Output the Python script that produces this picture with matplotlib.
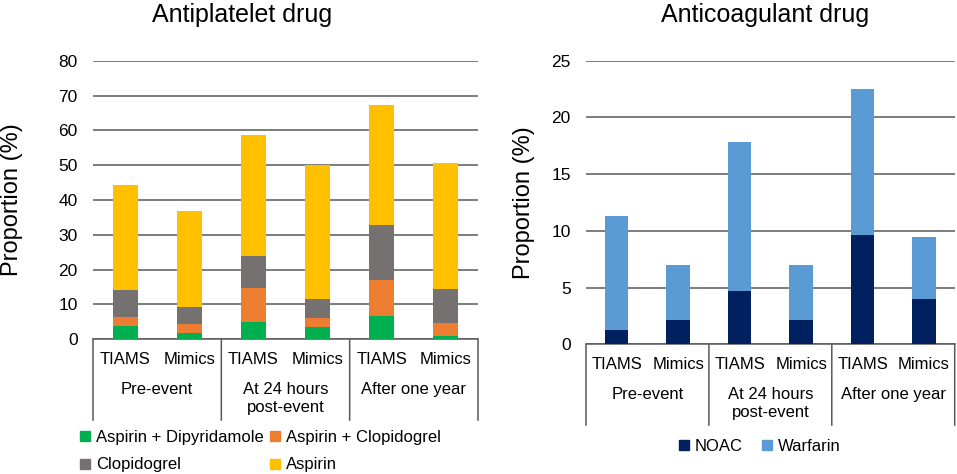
import matplotlib
matplotlib.use("Agg")
import matplotlib.pyplot as plt
import matplotlib.transforms as mtransforms
from matplotlib.lines import Line2D
import numpy as np

plt.rcParams['font.family'] = ['Liberation Sans', 'DejaVu Sans']

# ---------------- data ----------------
subgroups = ["TIAMS", "Mimics", "TIAMS", "Mimics", "TIAMS", "Mimics"]
periods = ["Pre-event", "At 24 hours\npost-event", "After one year"]

# Antiplatelet (%), stacked bottom -> top
asp_dip = [3.8, 1.8, 5.0, 3.4, 6.8, 1.0]
asp_clop = [2.7, 2.6, 9.6, 2.8, 10.2, 3.7]
clopidogrel = [7.7, 4.8, 9.4, 5.5, 15.7, 9.8]
aspirin = [30.2, 27.5, 34.6, 38.3, 34.5, 36.1]

# Anticoagulant (%), stacked bottom -> top
noac = [1.3, 2.1, 4.7, 2.1, 9.6, 4.0]
warfarin = [10.0, 4.9, 13.1, 4.9, 12.9, 5.5]

antiplatelet_series = [
    ("Aspirin + Dipyridamole", asp_dip, "#00B050"),
    ("Aspirin + Clopidogrel", asp_clop, "#ED7D31"),
    ("Clopidogrel", clopidogrel, "#767171"),
    ("Aspirin", aspirin, "#FFC000"),
]
anticoag_series = [
    ("NOAC", noac, "#002060"),
    ("Warfarin", warfarin, "#5B9BD5"),
]

W, H = 957, 474
fig = plt.figure(figsize=(W / 100, H / 100), dpi=100)

def add_axes_px(x0, x1, ytop, ybot):
    return fig.add_axes([x0 / W, 1 - ybot / H, (x1 - x0) / W, (ybot - ytop) / H])

GRID = "#595959"

def draw_panel(ax, series, ymax, ystep, bar_w, title, title_x, ylabel_x):
    x = np.arange(len(subgroups))
    bottom = np.zeros(len(subgroups))
    handles = []
    for name, vals, col in series:
        v = np.array(vals, dtype=float)
        ax.bar(x, v, bottom=bottom, width=bar_w, color=col, linewidth=0, zorder=3)
        bottom += v
        handles.append(Line2D([], [], marker='s', linestyle='none', markersize=6.5,
                              markerfacecolor=col, markeredgecolor=col, label=name))
    ax.set_xlim(-0.5, len(subgroups) - 0.5)
    ax.set_ylim(0, ymax)
    ax.set_yticks(np.arange(0, ymax + 0.01, ystep))
    ax.yaxis.grid(True, color=GRID, linewidth=1.1, zorder=0)
    ax.set_axisbelow(True)
    for s in ["top", "right", "left"]:
        ax.spines[s].set_visible(False)
    ax.spines["bottom"].set_color(GRID)
    ax.spines["bottom"].set_linewidth(1.1)
    ax.tick_params(axis='y', length=0, pad=11, labelsize=12.5, labelcolor="black")
    ax.set_xticks([])
    ax.set_ylabel("Proportion (%)", fontsize=17)
    ax.yaxis.set_label_coords(ylabel_x, 0.5)

    # category table under the axis
    base = mtransforms.blended_transform_factory(ax.transData, ax.transAxes)

    def tr(dy_px):
        return base + mtransforms.ScaledTranslation(0, -dy_px / 100, fig.dpi_scale_trans)

    for i, lab in enumerate(subgroups):
        ax.text(i, 0, lab, transform=tr(20), ha='center', va='center',
                fontsize=12, clip_on=False)
    for j, lab in enumerate(periods):
        ax.text(2 * j + 0.5, 0, lab, transform=tr(43), ha='center', va='top',
                fontsize=12, linespacing=1.2, clip_on=False)
    for xs in [-0.5, 1.5, 3.5, 5.5]:
        ax.annotate("", xy=(xs, 0), xycoords=tr(0), xytext=(xs, 0), textcoords=tr(81),
                    arrowprops=dict(arrowstyle='-', color=GRID, lw=1.1,
                                    shrinkA=0, shrinkB=0))
    fig.text(title_x / W, 1 - 15 / H, title, ha='center', va='center', fontsize=18)
    return handles

# left panel
axL = add_axes_px(93, 478, 60.7, 339.3)
hL = draw_panel(axL, antiplatelet_series, 80, 10, 0.39, "Antiplatelet drug", 241.7, -0.182)
# right panel
axR = add_axes_px(586, 954.7, 60.7, 344.3)
hR = draw_panel(axR, anticoag_series, 25, 5, 0.38, "Anticoagulant drug", 765, -0.138)

legL = fig.legend(handles=[hL[0], hL[2], hL[1], hL[3]], ncol=2, loc='upper left',
                  bbox_to_anchor=(80 / W, 1 - 430 / H), frameon=False, fontsize=12,
                  borderpad=0, handlelength=0.6, handletextpad=0.35,
                  columnspacing=0.4, labelspacing=0.75, borderaxespad=0)
legR = fig.legend(handles=hR, ncol=2, loc='upper left',
                  bbox_to_anchor=(679 / W, 1 - 439 / H), frameon=False, fontsize=12,
                  borderpad=0, handlelength=0.6, handletextpad=0.35,
                  columnspacing=1.15, borderaxespad=0)

fig.savefig("out.png", dpi=100)
